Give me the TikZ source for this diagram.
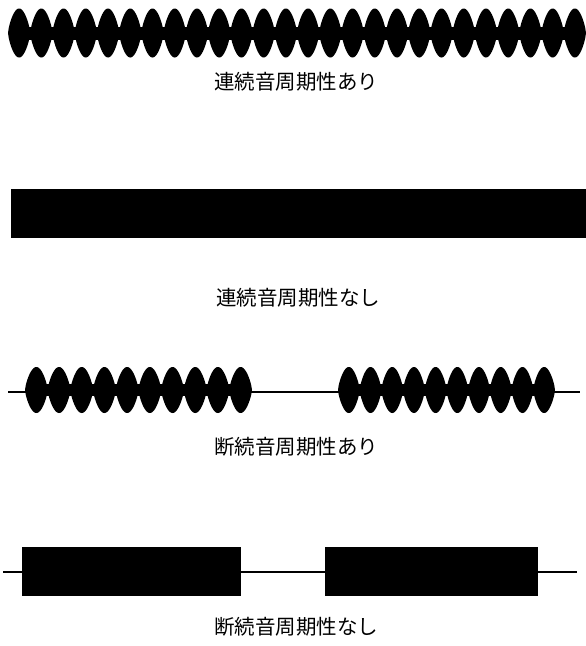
\documentclass[tikz,border=0pt]{standalone}
\usepackage{fontspec}
\newfontfamily\cjk{Noto Sans CJK JP}
\tikzset{
  lbl/.style={font=\cjk\fontsize{20.5}{21}\selectfont, inner sep=0pt, anchor=center},
  baseline/.style={line width=2pt, draw=black},
  blk/.style={fill=black}
}
\newcommand\lobes[6]{%
  \pgfmathsetmacro\per{(#2-#1)/#3}%
  \fill[blk] ({#1+\per/2},{#4-#6}) rectangle ({#2-\per/2},{#4+#6});
  \foreach \k in {1,...,#3}{%
    \pgfmathsetmacro\xa{#1+(\k-1)*\per}%
    \fill[blk] plot[domain=0:180,samples=31,variable=\t] ({\xa+\t/180*\per},{#4-#5*sin(\t)^0.7})
      -- plot[domain=180:0,samples=31,variable=\t] ({\xa+\t/180*\per},{#4+#5*sin(\t)^0.7}) -- cycle;
  }%
}
\begin{document}
\begin{tikzpicture}[x=1pt,y=-1pt]
\useasboundingbox (0,0) rectangle (586,646);
% row 1: continuous periodic
\lobes{8}{586}{26}{33}{24.5}{6.5}
\node[lbl] (l1) at (296,82) {連続音周期性あり};
% row 2: continuous non-periodic
\fill[blk] (11,189) rectangle (586,238);
\node[lbl] (l2) at (298,298) {連続音周期性なし};
% row 3: intermittent periodic
\coordinate (a0) at (8,392);
\coordinate (a1) at (580,392);
\draw[baseline] (a0) -- (a1);
\lobes{25}{252}{10}{390}{23}{6}
\lobes{338}{555}{10}{390}{23}{6}
\node[lbl] (l3) at (296,447) {断続音周期性あり};
% row 4: intermittent non-periodic
\coordinate (b0) at (3,572);
\coordinate (b1) at (577,572);
\draw[baseline] (b0) -- (b1);
\fill[blk] (22,547) rectangle (241,596);
\fill[blk] (325,547) rectangle (538,596);
\node[lbl] (l4) at (296,627) {断続音周期性なし};
\end{tikzpicture}
\end{document}
